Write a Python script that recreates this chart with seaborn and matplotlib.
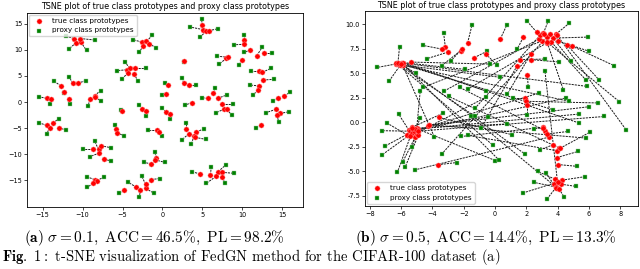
import matplotlib
matplotlib.use('Agg')
import matplotlib.pyplot as plt
import seaborn as sns
import pandas as pd

# t-SNE coordinates: each true prototype is paired
# with the proxy prototype at the same index (a dashed line joins them)

# (a) sigma = 0.1 : tight clusters
left_true = [
    (-11.1, 12.2), (-10.8, 11.4), (-10.2, 11.5), (-10.3, 12.2),
    (-2.6, 11.5), (-2.0, 11.7), (-1.7, 11.2), (-2.4, 10.8),
    (4.96, 14.7), (5.1, 13.9), (5.4, 13.6), (5.8, 13.7),
    (10.25, 11.9), (10.25, 11.1), (11.0, 10.0), (9.9, 8.1), (11.8, 8.9), (12.7, 9.35),
    (8.0, 8.4), (8.25, 8.6), (2.7, 7.9),
    (12.1, 6.0), (12.5, 5.7), (12.6, 4.23), (12.1, 3.08), (11.9, 2.3),
    (15.25, 1.22), (14.4, 0.7), (14.2, -1.4), (14.7, -2.2), (14.3, -2.5), (12.3, -4.5),
    (6.37, 1.67), (6.9, 0.7), (5.66, 0.7), (7.45, -0.38), (7.75, -1.35), (8.04, -1.4), (3.66, -0.12),
    (2.66, 3.72), (3.29, 3.27),
    (0.7, 3.3), (0.5, 1.5), (0.4, -1.9), (0.9, -2.4),
    (-2.5, -1.4), (-2.0, -1.7), (-5.05, -1.7),
    (-4.5, 6.2), (-4.1, 6.5), (-3.45, 6.5), (-4.3, 5.55), (-3.55, 5.4),
    (-12.7, 3.08), (-11.25, 3.6), (-10.6, 3.6), (-11.7, 0.5), (-12.3, 1.86),
    (-14.5, 0.7), (-13.9, 0.6),
    (-8.5, 1.2), (-8.4, 0.9), (-9.1, 0.5),
    (-14.5, -4.5), (-14.1, -4.9), (-13.7, -4.1), (-13.0, -4.9),
    (-5.83, -5.25), (-5.67, -5.9),
    (-0.67, -5.4), (-0.42, -5.7),
    (2.9, -5.1), (4.25, -5.8), (3.3, -6.1), (3.96, -6.5), (4.1, -6.8),
    (-8.75, -9.1), (-8.0, -9.1), (-7.7, -8.4), (-7.9, -9.8), (-7.3, -11.0),
    (-0.75, -10.7), (-1.4, -11.9), (-0.96, -11.1),
    (4.7, -13.85), (6.0, -14.0), (6.96, -13.4), (7.4, -13.5), (6.7, -14.3), (7.5, -14.5),
    (-8.5, -14.9), (-8.2, -15.1), (-8.7, -15.6),
    (-4.8, -17.0), (-3.25, -16.4), (-2.75, -16.9), (-2.1, -16.6), (-2.1, -15.8), (-1.4, -14.9),
]
left_proxy = [
    (-12.1, 12.7), (-11.7, 10.2), (-9.5, 9.9), (-8.4, 11.9),
    (-3.7, 12.0), (-1.25, 12.8), (-0.75, 10.4), (-2.9, 9.6),
    (4.9, 15.9), (3.5, 14.4), (4.75, 12.45), (7.0, 14.1),
    (10.25, 12.9), (9.0, 11.0), (10.25, 9.55), (9.6, 7.1), (12.5, 10.6), (13.7, 9.35),
    (7.1, 7.3), (6.8, 8.8), (2.65, 7.75),
    (11.1, 6.0), (13.6, 6.5), (13.9, 4.35), (10.95, 3.27), (11.37, 1.35),
    (15.95, 1.86), (13.87, 0.19), (12.95, -2.05), (15.87, -1.86), (14.54, -3.78), (11.75, -4.9),
    (6.58, 2.63), (8.04, 1.35), (4.91, 0.83), (8.87, -0.38), (6.7, -2.05), (8.66, -2.5), (2.87, -0.57),
    (2.41, 4.55), (4.2, 3.27),
    (0.3, 3.74), (0.0, 1.35), (0.0, -1.2), (0.9, -3.3),
    (-2.9, -0.6), (-2.1, -2.6), (-5.2, -1.5),
    (-5.75, 6.0), (-4.7, 7.7), (-2.0, 6.5), (-5.1, 4.45), (-3.1, 4.1),
    (-13.6, 4.04), (-11.67, 4.87), (-9.6, 4.1), (-11.6, -0.45), (-12.35, 1.8),
    (-15.4, 1.0), (-14.1, -0.45),
    (-7.75, 2.2), (-7.7, 0.2), (-9.3, -0.8),
    (-15.4, -4.0), (-14.5, -6.2), (-13.0, -3.2), (-12.1, -5.4),
    (-5.96, -4.5), (-4.83, -6.5),
    (-1.8, -5.4), (0.0, -6.5),
    (2.9, -4.1), (5.2, -5.1), (2.4, -7.3), (3.6, -8.1), (5.5, -7.2),
    (-9.9, -9.1), (-8.5, -7.5), (-6.4, -8.8), (-9.1, -10.5), (-6.5, -11.3),
    (-0.96, -9.7), (-2.3, -11.6), (0.3, -11.6),
    (3.75, -13.4), (6.1, -12.45), (7.9, -12.1), (8.9, -13.7), (5.5, -15.6), (7.8, -15.6),
    (-9.4, -14.4), (-7.3, -14.4), (-9.4, -16.4),
    (-5.5, -17.5), (-4.3, -15.4), (-2.9, -18.3), (-1.1, -17.5), (-2.6, -14.3), (-0.33, -14.7),
]

# (b) sigma = 0.5 : proxies scattered, long links
right_true = [
    (-1.75, 8.1), (-3.17, 7.65), (-3.4, 7.48), (-6.2, 6.1), (-6.35, 5.95),
    (-6.0, 5.95), (-3.0, 7.17), (-2.2, 7.3), (-2.1, 7.5), (-5.85, 6.1),
    (-1.33, 6.6), (-5.35, 6.15), (-5.95, 5.85), (-6.1, 6.0), (3.0, 8.3),
    (-5.0, -0.6), (2.8, 8.5), (4.1, -2.6), (3.2, -0.85), (3.3, 8.1),
    (-6.0, 6.1), (-4.9, -1.0), (2.9, 8.9), (-5.3, -0.5), (3.9, -6.6),
    (-6.2, 5.95), (-4.24, -0.3), (-5.5, -0.8), (-5.6, -1.3), (-5.2, -1.2),
    (-5.45, -0.9), (-5.65, -1.25), (-5.3, -1.1), (-5.1, -1.5), (-5.0, -1.2),
    (-4.9, -1.3), (-5.4, -1.4), (3.48, -1.5), (-5.95, 6.0), (3.3, 8.7),
    (-3.67, -4.33), (3.09, -0.5), (3.99, -2.9), (-6.35, 6.1), (-4.9, -0.7),
    (-5.85, 5.9), (2.67, 9.2), (3.1, 9.1), (3.9, 9.0), (0.34, 8.5),
    (3.7, 8.6), (4.05, 8.3), (3.5, 9.0), (2.3, 6.4), (1.6, 6.4),
    (1.81, 8.67), (4.0, -6.1), (4.9, 7.8), (3.6, 8.2), (4.6, 7.9),
    (-5.95, 6.05), (3.15, 9.05), (2.07, 4.86), (-5.0, -0.8), (1.92, 2.48),
    (-5.2, -0.9), (-6.1, 5.9), (3.35, 8.15), (-4.3, -0.35), (2.0, 2.15),
    (-6.2, 6.05), (-5.1, -0.7), (2.03, 1.8), (-4.9, -0.9), (-5.3, -0.6),
    (3.1, -0.55), (3.3, -1.2), (-5.85, 6.1), (4.15, -2.65), (-4.2, -0.25),
    (3.95, 8.95), (-3.6, 0.5), (-6.0, 5.95), (3.73, -2.28), (3.95, -3.6),
    (4.0, -4.3), (4.27, -5.9), (3.84, -5.8), (3.75, -6.3), (3.9, -6.6),
    (4.2, -6.3), (4.0, -6.1), (3.9, -6.65), (4.1, -6.8),
    (-0.6, 7.0), (2.3, 7.0), (1.43, 5.8),
]
right_proxy = [
    (-1.47, 9.9), (-3.28, 9.1), (-4.6, 7.85), (-6.1, 7.7), (-7.55, 5.6),
    (-6.75, 4.25), (-4.35, 6.5), (-3.4, 5.8), (-2.8, 6.3), (-1.9, 5.4),
    (-0.51, 7.25), (-0.3, 5.95), (0.34, 4.6), (-5.03, 5.0), (-4.6, 3.57),
    (-4.78, 3.16), (-3.24, 3.2), (-2.96, 2.65), (-2.26, 3.57), (-1.73, 3.4),
    (-0.58, 3.2), (-0.58, 2.55), (-1.26, 1.46), (-3.3, 0.95), (-1.55, 0.6),
    (-1.26, 0.6), (-0.45, 0.55), (-6.16, 0.85), (-6.9, -0.07), (-4.78, 0.43),
    (-7.2, -0.85), (-7.0, -2.4), (-7.2, -3.3), (-5.3, -2.55), (-5.9, -4.05),
    (-5.75, -4.6), (-6.23, -5.07), (-5.1, -4.84), (-3.87, -1.5), (-3.4, -3.23),
    (-2.45, -4.1), (-2.15, -1.44), (-1.73, -1.33), (-0.15, -2.3), (0.03, -3.9),
    (0.23, -3.8), (2.03, 10.37), (3.41, 10.37), (4.76, 10.13), (0.75, 9.9),
    (5.93, 8.7), (6.04, 7.24), (4.86, 6.3), (4.1, 6.16), (3.2, 6.46),
    (1.43, 7.5), (3.2, 5.2), (7.6, 5.8), (5.8, 4.35), (6.65, 4.35),
    (5.9, 3.67), (4.37, 3.33), (2.13, 3.57), (2.84, 3.0), (1.13, 2.48),
    (4.52, 2.48), (4.76, 2.14), (7.96, 2.1), (6.04, 1.6), (6.6, 1.98),
    (3.69, 1.3), (5.4, 0.85), (2.03, 0.72), (7.0, 0.6), (0.75, -0.17),
    (2.5, -0.64), (4.7, -0.92), (5.38, -0.07), (6.1, -0.98), (5.8, -1.6),
    (8.38, -0.75), (1.11, -1.26), (1.92, -3.24), (2.88, -2.8), (5.33, -2.96),
    (5.27, -4.49), (5.76, -5.54), (2.73, -5.0), (3.27, -5.2), (2.51, -6.13),
    (5.2, -6.54), (1.8, -7.2), (3.35, -7.78), (4.44, -7.65),
    (0.1, 5.9), (0.8, 2.9), (-0.9, -0.6),
]

captions = [
    r"$\mathbf{(a)}\ \sigma = 0.1,\ \mathrm{ACC} = 46.5\%,\ \mathrm{PL} = 98.2\%$",
    r"$\mathbf{(b)}\ \sigma = 0.5,\ \mathrm{ACC} = 14.4\%,\ \mathrm{PL} = 13.3\%$",
]
title = "TSNE plot of true class prototypes and proxy class prototypes"

plt.rcParams['mathtext.fontset'] = 'cm'
plt.rcParams['font.family'] = ['DejaVu Sans']

fig = plt.figure(figsize=(6.4, 2.69), dpi=100)
ax_a = fig.add_axes([0.042, 0.230, 0.431, 0.723])
ax_b = fig.add_axes([0.570, 0.234, 0.427, 0.725])


def draw_panel(ax, true_pts, proxy_pts, legend_loc):
    t = pd.DataFrame(true_pts, columns=['x', 'y'])
    p = pd.DataFrame(proxy_pts, columns=['x', 'y'])
    for (tx, ty), (px, py) in zip(true_pts, proxy_pts):
        ax.plot([tx, px], [ty, py], color='#1a1a1a', linestyle='--',
                linewidth=0.7, dashes=(2.2, 1.0), zorder=1)
    sns.scatterplot(data=t, x='x', y='y', ax=ax, color='red', marker='o',
                    s=14, linewidth=0.3, edgecolor='#ffaaaa',
                    label='true class prototypes', zorder=3)
    sns.scatterplot(data=p, x='x', y='y', ax=ax, color='green', marker='s',
                    s=12, linewidth=0.3, edgecolor='#99cc99',
                    label='proxy class prototypes', zorder=2)
    ax.set_xlabel('')
    ax.set_ylabel('')
    ax.set_title(title, fontsize=5.75, pad=2.5)
    ax.tick_params(labelsize=4.7, length=2, width=0.5, pad=1.5)
    for sp in ax.spines.values():
        sp.set_linewidth(0.6)
    ax.legend(loc=legend_loc, fontsize=5.2, markerscale=1.0,
              handletextpad=0.8, borderpad=0.4, labelspacing=0.5,
              borderaxespad=0.3, framealpha=0.8, edgecolor='#cccccc')


draw_panel(ax_a, left_true, left_proxy, 'upper left')
ax_a.set_xlim(-16.96, 17.54)
ax_a.set_ylim(-20.2, 17.17)
ax_a.set_xticks([-15, -10, -5, 0, 5, 10, 15])
ax_a.set_yticks([-15, -10, -5, 0, 5, 10, 15])

draw_panel(ax_b, right_true, right_proxy, 'lower left')
ax_b.set_xlim(-8.32, 9.15)
ax_b.set_ylim(-8.54, 11.36)
ax_b.set_xticks([-8, -6, -4, -2, 0, 2, 4, 6, 8])
ax_b.set_yticks([-7.5, -5.0, -2.5, 0.0, 2.5, 5.0, 7.5, 10.0])
ax_b.yaxis.set_major_formatter(matplotlib.ticker.FormatStrFormatter('%.1f'))

fig.text(0.242, 0.115, captions[0], ha='center', va='center', fontsize=11)
fig.text(0.759, 0.115, captions[1], ha='center', va='center', fontsize=11)

# figure caption line below the two panels
fig.text(0.003, 0.006,
         r"$\mathbf{Fig.\ 1:}$ t-SNE visualization of FedGN method for the CIFAR-100 dataset (a)",
         ha='left', va='bottom', fontsize=10.5, fontfamily='cmr10')

fig.savefig('out.png', dpi=100)
